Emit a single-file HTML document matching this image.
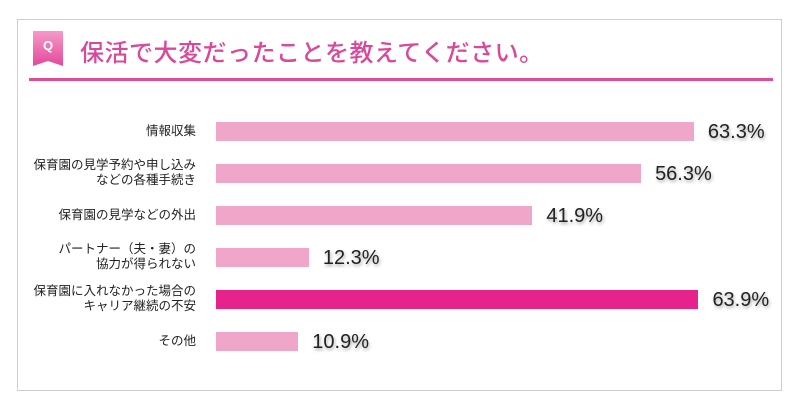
<!DOCTYPE html>
<html><head><meta charset="utf-8">
<style>
body{margin:0;width:800px;height:410px;background:#fff;font-family:"Liberation Sans","Noto Sans CJK JP",sans-serif;position:relative;overflow:hidden}
.frame{position:absolute;left:17px;top:19px;width:765px;height:372px;border:1px solid #cfcfcf;box-sizing:border-box}
.title{position:absolute;left:80px;top:33px;font-size:24px;color:#d9489b;white-space:nowrap;letter-spacing:0.5px;font-weight:500}
.rule{position:absolute;left:29px;top:78px;width:744px;height:3px;background:#dc4e9c}
.qicon{position:absolute;left:33px;top:31px;width:30px;height:35px}
.lab{position:absolute;right:604px;font-size:12.5px;color:#222;text-align:right;line-height:15px;white-space:nowrap}
.bar{position:absolute;height:19px}
.val{position:absolute;font-size:20px;color:#222;text-shadow:1px 2px 3px rgba(0,0,0,0.35);white-space:nowrap}
</style></head><body>
<div class="frame"></div>
<svg class="qicon" viewBox="0 0 30 35">
<defs><linearGradient id="g" x1="0" y1="0" x2="0" y2="1"><stop offset="0" stop-color="#f59ac8"/><stop offset="1" stop-color="#e3489b"/></linearGradient></defs>
<path d="M0 0H30V35L15 30L0 35Z" fill="url(#g)"/>
<text x="15" y="19" font-size="13" font-weight="bold" fill="#fff" text-anchor="middle" font-family="Liberation Sans,sans-serif">Q</text>
</svg>
<div class="title">保活で大変だったことを教えてください。</div>
<div class="rule"></div>
<div id="chart"></div>
<script>
const categories=["情報収集","保育園の見学予約や申し込み<br>などの各種手続き","保育園の見学などの外出","パートナー（夫・妻）の<br>協力が得られない","保育園に入れなかった場合の<br>キャリア継続の不安","その他"];
const values=[63.3,56.3,41.9,12.3,63.9,10.9];
const highlight=[false,false,false,false,true,false];
const chart=document.getElementById('chart');
const x0=216,scale=7.55,y0=122,step=42;
function xs(v){return v*scale;}
function ys(i){return y0+i*step;}
categories.forEach((c,i)=>{
  const y=ys(i);
  const l=document.createElement('div');l.className='lab';l.innerHTML=c;
  
  
  const twoLine=c.includes('<br>');
  l.style.top=(y+(twoLine?-6:2))+'px';
  chart.appendChild(l);
  const b=document.createElement('div');b.className='bar';
  
  
  b.style.left=x0+'px';b.style.top=y+'px';b.style.width=xs(values[i])+'px';
  b.style.background=highlight[i]?'#e5238a':'#f0a6c8';
  chart.appendChild(b);
  const v=document.createElement('div');v.className='val';v.textContent=values[i].toFixed(1)+'%';
  
  
  v.style.left=(x0+xs(values[i])+14)+'px';v.style.top=(y-1)+'px';
  chart.appendChild(v);
});
</script>
</body></html>
